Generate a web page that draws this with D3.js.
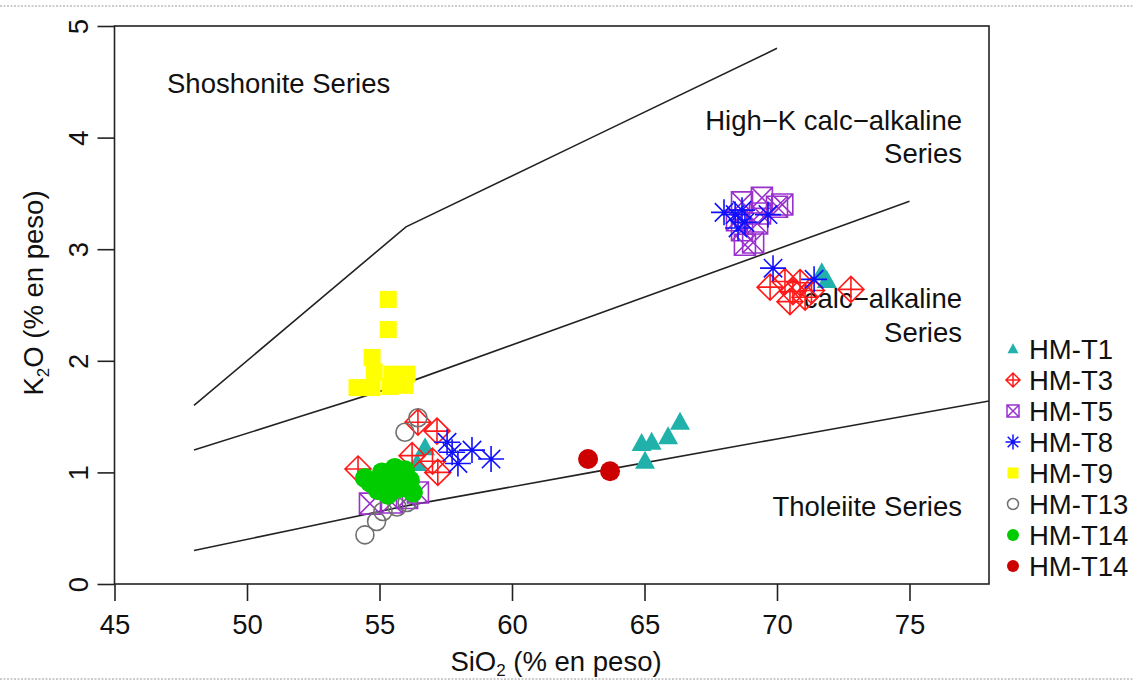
<!DOCTYPE html>
<html>
<head>
<meta charset="utf-8">
<script src="https://cdn.jsdelivr.net/npm/d3@7"></script>
<style>
  html, body { margin: 0; padding: 0; background: #fff; }
  svg { display: block; }
  text { font-family: "Liberation Sans", Arial, Helvetica, sans-serif; fill: #111; }
</style>
</head>
<body>
<svg id="chart" width="1134" height="682"></svg>
<script>
// Axis ticks
const xTicks = [45, 50, 55, 60, 65, 70, 75];
const yTicks = [0, 1, 2, 3, 4, 5];

// Peccerillo & Taylor (1976) series boundaries, [SiO2, K2O]
const lineTholeiite = [[48, 0.3], [52, 0.5], [56, 0.7], [63, 1.0], [70, 1.3], [78, 1.64]];
const lineHighK = [[48, 1.2], [52, 1.5], [56, 1.8], [63, 2.4], [70, 3.0], [75, 3.43]];
const lineShoshonite = [[48, 1.6], [52, 2.4], [56, 3.2], [63, 4.0], [70, 4.8]];

// Samples, [SiO2, K2O] in wt %
const hmT1 = [[64.89, 1.26], [65.27, 1.27], [65.02, 1.10], [65.89, 1.32], [66.34, 1.45],
  [56.72, 1.22], [56.42, 1.08], [71.69, 2.79], [71.88, 2.72]];
const hmT3 = [[54.19, 1.03], [56.45, 1.45], [57.17, 1.37], [56.23, 1.15], [57.0, 1.10], [57.2, 1.00],
  [69.74, 2.66], [70.30, 2.71], [70.6, 2.62], [70.87, 2.70], [70.49, 2.53], [71.06, 2.57],
  [71.3, 2.63], [72.79, 2.64]];
const hmT5 = [[68.68, 3.42], [69.43, 3.46], [70.0, 3.38], [69.36, 3.32], [68.49, 3.26], [68.68, 3.17],
  [68.79, 3.04], [69.1, 3.06], [69.25, 3.23], [70.2, 3.40],
  [54.64, 0.72], [55.47, 0.73], [56.04, 0.77], [56.45, 0.82]];
const hmT8 = [[57.55, 1.27], [57.74, 1.18], [57.96, 1.08], [58.49, 1.20], [59.21, 1.12],
  [68.0, 3.33], [68.42, 3.31], [68.68, 3.35], [68.79, 3.24], [68.53, 3.19], [69.66, 3.31],
  [69.85, 2.83], [71.4, 2.73]];
const hmT9 = [[55.33, 2.55], [55.33, 2.28], [54.72, 2.03], [54.8, 1.90], [54.15, 1.76], [54.72, 1.76],
  [55.47, 1.88], [56.04, 1.88], [55.96, 1.78], [55.4, 1.77]];
const hmT13 = [[54.45, 0.44], [54.89, 0.56], [55.13, 0.65], [55.96, 1.36], [56.45, 1.49],
  [55.66, 0.69], [56.04, 0.73]];
const hmT14g = [[54.64, 0.91], [55.09, 1.0], [55.47, 0.95], [54.94, 0.84], [55.77, 0.86], [56.15, 0.93],
  [55.58, 1.04], [54.45, 0.95], [55.96, 1.02], [55.32, 0.80], [56.26, 0.82]];
const hmT14r = [[62.87, 1.12], [63.7, 1.01]];

const legendLabels = ["HM-T1", "HM-T3", "HM-T5", "HM-T8", "HM-T9", "HM-T13", "HM-T14", "HM-T14"];

const series = [
  { data: hmT1, shape: "triangle", color: "#20B2AA" },
  { data: hmT3, shape: "diamondPlus", color: "#FF1A1A" },
  { data: hmT5, shape: "squareX", color: "#9932CC" },
  { data: hmT8, shape: "asterisk", color: "#1010FF" },
  { data: hmT9, shape: "square", color: "#FFFF00" },
  { data: hmT13, shape: "circleOpen", color: "#707070" },
  { data: hmT14g, shape: "circle", color: "#00CC00" },
  { data: hmT14r, shape: "circle", color: "#CC0000" }
];

const FS = 27.5;
const svg = d3.select("#chart");
const x = d3.scaleLinear().domain([45, 78]).range([114.5, 989]);
const y = d3.scaleLinear().domain([0, 5]).range([584, 26]);

// page edge rules
[6, 679].forEach(py => svg.append("line")
  .attr("x1", 0).attr("x2", 1134).attr("y1", py).attr("y2", py)
  .attr("stroke", "#9a9a9a").attr("stroke-width", 1).attr("stroke-dasharray", "2,1.5"));

// plot frame
svg.append("rect")
  .attr("x", x(45)).attr("y", y(5))
  .attr("width", x(78) - x(45)).attr("height", y(0) - y(5))
  .attr("fill", "none").attr("stroke", "#222").attr("stroke-width", 1.6);

// axes
const tickLen = 17;
const xAxis = d3.axisBottom(x).tickValues(xTicks).tickSize(tickLen).tickFormat(d3.format("d"));
const gx = svg.append("g").attr("transform", `translate(0,${y(0)})`).call(xAxis);
gx.select(".domain").remove();
gx.selectAll(".tick line").attr("stroke", "#222").attr("stroke-width", 1.6);
gx.selectAll(".tick text").attr("font-size", FS).attr("fill", "#111")
  .attr("font-family", "Liberation Sans, Arial, sans-serif")
  .attr("y", 50).attr("dy", null);

const yAxis = d3.axisLeft(y).tickValues(yTicks).tickSize(tickLen).tickFormat(d3.format("d"));
const gy = svg.append("g").attr("transform", `translate(${x(45)},0)`).call(yAxis);
gy.select(".domain").remove();
gy.selectAll(".tick line").attr("stroke", "#222").attr("stroke-width", 1.6);
gy.selectAll(".tick text").remove();
// rotated y tick labels, baseline right of the glyphs
gy.selectAll(".tick").append("text")
  .attr("font-size", FS).attr("fill", "#111")
  .attr("font-family", "Liberation Sans, Arial, sans-serif")
  .attr("text-anchor", "middle")
  .attr("transform", "translate(-27,0) rotate(-90)")
  .text(d => d3.format("d")(d));

// axis titles
const xTitle = svg.append("text").attr("x", 556).attr("y", 671)
  .attr("text-anchor", "middle").attr("font-size", FS);
xTitle.append("tspan").text("SiO");
xTitle.append("tspan").text("2").attr("font-size", 17).attr("dy", 5);
xTitle.append("tspan").text(" (% en peso)").attr("dy", -5);

const yTitle = svg.append("text")
  .attr("transform", "translate(43,293) rotate(-90)")
  .attr("text-anchor", "middle").attr("font-size", FS);
yTitle.append("tspan").text("K");
yTitle.append("tspan").text("2").attr("font-size", 17).attr("dy", 6);
yTitle.append("tspan").text("O (% en peso)").attr("dy", -6);

// series boundaries
const line = d3.line().x(d => x(d[0])).y(d => y(d[1]));
[lineTholeiite, lineHighK, lineShoshonite].forEach(l =>
  svg.append("path").attr("d", line(l)).attr("fill", "none")
    .attr("stroke", "#222").attr("stroke-width", 1.6));

// field labels
const fieldLabels = [
  { t: "Shoshonite Series", px: 167, py: 93, a: "start" },
  { t: "High\u2212K calc\u2212alkaline", px: 962, py: 130, a: "end" },
  { t: "Series", px: 962, py: 163, a: "end" },
  { t: "calc\u2212alkaline", px: 962, py: 308, a: "end" },
  { t: "Series", px: 962, py: 342, a: "end" },
  { t: "Tholeiite Series", px: 962, py: 516, a: "end" }
];
fieldLabels.forEach(f => svg.append("text").attr("x", f.px).attr("y", f.py)
  .attr("text-anchor", f.a).attr("font-size", FS).text(f.t));

// marker drawing
function drawMarker(g, shape, s, color, sw) {
  const h = s / 2;
  switch (shape) {
    case "triangle":
      g.append("path").attr("d", `M0,${-h * 1.05}L${h},${h * 0.75}L${-h},${h * 0.75}Z`).attr("fill", color);
      break;
    case "diamondPlus":
      g.append("path").attr("d", `M0,${-h}L${h},0L0,${h}L${-h},0Z M0,${-h}V${h} M${-h},0H${h}`)
        .attr("fill", "none").attr("stroke", color).attr("stroke-width", sw);
      break;
    case "squareX":
      g.append("path").attr("d", `M${-h},${-h}H${h}V${h}H${-h}Z M${-h},${-h}L${h},${h} M${h},${-h}L${-h},${h}`)
        .attr("fill", "none").attr("stroke", color).attr("stroke-width", sw);
      break;
    case "asterisk": {
      const d = h * 0.7071;
      g.append("path").attr("d", `M0,${-h}V${h} M${-h},0H${h} M${-d},${-d}L${d},${d} M${d},${-d}L${-d},${d}`)
        .attr("fill", "none").attr("stroke", color).attr("stroke-width", sw);
      break;
    }
    case "square":
      g.append("rect").attr("x", -h).attr("y", -h).attr("width", s).attr("height", s).attr("fill", color);
      break;
    case "circleOpen":
      g.append("circle").attr("r", h).attr("fill", "none").attr("stroke", color).attr("stroke-width", sw);
      break;
    case "circle":
      g.append("circle").attr("r", h).attr("fill", color);
      break;
  }
}

const plotSize = { triangle: 20, diamondPlus: 26, squareX: 21, asterisk: 26, square: 17, circleOpen: 18, circle: 20 };
const legendSize = { triangle: 11, diamondPlus: 14, squareX: 12, asterisk: 15, square: 11, circleOpen: 11, circle: 12 };

const pts = svg.append("g");
series.forEach(sr => {
  pts.append("g").selectAll("g").data(sr.data).join("g")
    .attr("transform", d => `translate(${x(d[0])},${y(d[1])})`)
    .each(function () { drawMarker(d3.select(this), sr.shape, plotSize[sr.shape], sr.color, 1.6); });
});

// legend
const leg = svg.append("g");
series.forEach((sr, i) => {
  const cy = 349 + i * 31;
  const g = leg.append("g").attr("transform", `translate(1013,${cy})`);
  drawMarker(g, sr.shape, legendSize[sr.shape], sr.color, 1.5);
  leg.append("text").attr("x", 1029).attr("y", cy + 10).attr("font-size", FS).text(legendLabels[i]);
});
</script>
</body>
</html>
